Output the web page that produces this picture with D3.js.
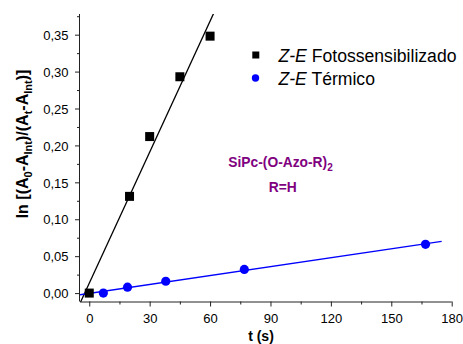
<!DOCTYPE html>
<html>
<head>
<meta charset="utf-8">
<script src="https://cdn.jsdelivr.net/npm/d3@7"></script>
<style>
  body { margin: 0; background: #fff; }
  text { font-family: "Liberation Sans", Arial, sans-serif; }
</style>
</head>
<body>
<div id="chart"></div>
<script>
// photosensitized Z-E (squares)
var fotoT = [0, 20, 30, 45, 60];
var fotoY = [0, 0.131, 0.212, 0.293, 0.348];
// thermal Z-E (circles)
var termT = [7, 19, 38, 77, 167];
var termY = [0, 0.008, 0.016, 0.032, 0.066];

var xTicks = [0, 30, 60, 90, 120, 150, 180];
var yTicks = [0, 0.05, 0.10, 0.15, 0.20, 0.25, 0.30, 0.35];

var W = 463, H = 344;
var svg = d3.select("#chart").append("svg")
    .attr("width", W).attr("height", H);

var x = d3.scaleLinear().domain([-4.6, 180]).range([80, 451.7]);
var y = d3.scaleLinear().domain([-0.0114, 0.378]).range([301.5, 14]);

var fmt = function(d) { return d3.format(".2f")(d).replace(".", ","); };

// clip for fit lines
svg.append("clipPath").attr("id", "clip")
    .append("rect").attr("x", 80).attr("y", 14).attr("width", 372).attr("height", 288);

// least squares fit
function fit(xs, ys) {
    var mx = d3.mean(xs), my = d3.mean(ys), sxy = 0, sxx = 0;
    for (var i = 0; i < xs.length; i++) {
        sxy += (xs[i] - mx) * (ys[i] - my);
        sxx += (xs[i] - mx) * (xs[i] - mx);
    }
    var b = sxy / sxx;
    return {b: b, a: my - b * mx};
}
var f1 = fit(fotoT, fotoY), f2 = fit(termT, termY);

svg.append("line").attr("clip-path", "url(#clip)")
    .attr("x1", x(-4.6)).attr("y1", y(f1.a + f1.b * -4.6))
    .attr("x2", x(80)).attr("y2", y(f1.a + f1.b * 80))
    .attr("stroke", "#000").attr("stroke-width", 1.3);
svg.append("line").attr("clip-path", "url(#clip)")
    .attr("x1", x(-4.6)).attr("y1", y(f2.a + f2.b * -4.6))
    .attr("x2", x(175)).attr("y2", y(f2.a + f2.b * 175))
    .attr("stroke", "#0000ff").attr("stroke-width", 1.3);

// axes
var xAxis = svg.append("g").attr("transform", "translate(0," + y.range()[0] + ")");
xAxis.call(d3.axisBottom(x).tickValues(d3.range(0, 181, 15)).tickSize(3).tickFormat(""));
xAxis.selectAll(".tick").filter(function(d) { return xTicks.indexOf(d) >= 0; })
    .select("line").attr("y2", 5);
xAxis.select(".domain").attr("d", "M80,0.5H" + x(180));
xAxis.selectAll(".tick").filter(function(d) { return xTicks.indexOf(d) >= 0; })
    .append("text").attr("y", 21).attr("fill", "#000")
    .attr("text-anchor", "middle").style("font-size", "13px")
    .text(function(d) { return d; });

var yAxis = svg.append("g").attr("transform", "translate(80,0)");
yAxis.call(d3.axisLeft(y).tickValues(d3.range(0, 0.376, 0.025)).tickSize(3).tickFormat(""));
yAxis.selectAll(".tick").filter(function(d, i) { return i % 2 === 0; })
    .select("line").attr("x2", -5);
yAxis.select(".domain").attr("d", "M-0.5," + y.range()[0] + "V14");
yAxis.selectAll(".tick").filter(function(d, i) { return i % 2 === 0; })
    .append("text").attr("x", -11.5).attr("dy", "0.36em").attr("fill", "#000")
    .attr("text-anchor", "end").style("font-size", "13px")
    .text(function(d, i) { return fmt(yTicks[Math.round(d / 0.05)]); });

svg.selectAll(".domain, .tick line").attr("stroke", "#222");

// markers
svg.selectAll(".sq").data(fotoT).enter().append("rect")
    .attr("x", function(d) { return x(d) - 4.5; })
    .attr("y", function(d, i) { return y(fotoY[i]) - 4.5; })
    .attr("width", 9).attr("height", 9).attr("fill", "#000");
svg.selectAll(".ci").data(termT).enter().append("circle")
    .attr("cx", function(d) { return x(d); })
    .attr("cy", function(d, i) { return y(termY[i]); })
    .attr("r", 4.6).attr("fill", "#0000ff");

// axis titles
svg.append("text").attr("x", 261).attr("y", 341).attr("text-anchor", "middle")
    .style("font-size", "14px").style("font-weight", "bold").text("t (s)");

var yl = svg.append("text")
    .attr("transform", "translate(27.5,144) rotate(-90)")
    .attr("text-anchor", "middle")
    .style("font-size", "16px").style("font-weight", "bold");
yl.append("tspan").text("ln [(A");
yl.append("tspan").attr("dy", 4).style("font-size", "11px").text("0");
yl.append("tspan").attr("dy", -4).text("-A");
yl.append("tspan").attr("dy", 4).style("font-size", "11px").text("Int");
yl.append("tspan").attr("dy", -4).text(")/(A");
yl.append("tspan").attr("dy", 4).style("font-size", "11px").text("t");
yl.append("tspan").attr("dy", -4).text("-A");
yl.append("tspan").attr("dy", 4).style("font-size", "11px").text("Int");
yl.append("tspan").attr("dy", -4).text(")]");

// legend
svg.append("rect").attr("x", 252.3).attr("y", 51.5).attr("width", 7).attr("height", 7).attr("fill", "#000");
svg.append("circle").attr("cx", 255.5).attr("cy", 78).attr("r", 3.7).attr("fill", "#0000ff");
var l1 = svg.append("text").attr("x", 278.5).attr("y", 61.5).style("font-size", "17.6px");
l1.append("tspan").style("font-style", "italic").text("Z-E");
l1.append("tspan").text(" Fotossensibilizado");
var l2 = svg.append("text").attr("x", 278.5).attr("y", 84.5).style("font-size", "17.6px");
l2.append("tspan").style("font-style", "italic").text("Z-E");
l2.append("tspan").text(" Térmico");

// annotation
var an = svg.append("text").attr("x", 228.3).attr("y", 167.3)
    .attr("fill", "#800080").style("font-size", "13.8px").style("font-weight", "bold");
an.append("tspan").text("SiPc-(O-Azo-R)");
an.append("tspan").attr("dy", 4).style("font-size", "10px").text("2");
svg.append("text").attr("x", 282.8).attr("y", 191.7).attr("text-anchor", "middle")
    .attr("fill", "#800080").style("font-size", "13.8px").style("font-weight", "bold").text("R=H");
</script>
</body>
</html>
